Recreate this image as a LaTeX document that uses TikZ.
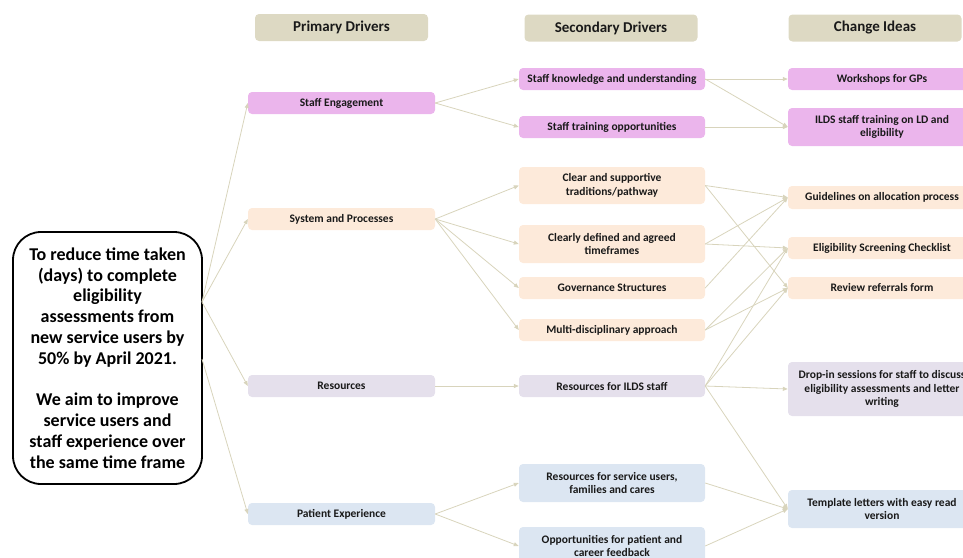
\documentclass[tikz,border=0pt]{standalone}
\usepackage{fontspec}
\setmainfont{Carlito}
\usetikzlibrary{arrows.meta}
\definecolor{hdr}{HTML}{DDD9C3}
\definecolor{pinkf}{HTML}{EBB5EC}
\definecolor{peach}{HTML}{FDEADA}
\definecolor{lav}{HTML}{E5E0EC}
\definecolor{bluef}{HTML}{DCE6F2}
\definecolor{connc}{HTML}{D8D4BC}
\begin{document}
\begin{tikzpicture}[x=1pt,y=-1pt,
  base/.style={rounded corners=4pt, inner sep=0pt, align=center, text=black!90,
    font=\bfseries\fontsize{11.5}{13.8}\selectfont},
  hdrbox/.style={base, fill=hdr, minimum width=173pt, minimum height=27pt,
    font=\bfseries\fontsize{15}{17}\selectfont},
  pbox/.style={base, minimum width=187pt, minimum height=22pt},
  sbox/.style={base, minimum width=186pt, minimum height=22pt},
  cbox/.style={base, minimum width=188pt, minimum height=22pt},
  conn/.style={draw=connc, line width=0.8pt, -{Triangle[length=5pt,width=4pt]}}]
\useasboundingbox (0,0) rectangle (963,557);
\clip (0,0) rectangle (963,557);
% headers
\node[hdrbox] (h1) at (341.5,27.5) {Primary Drivers};
\node[hdrbox] (h2) at (611,28) {Secondary Drivers};
\node[hdrbox] (h3) at (875,28) {Change Ideas};
% goal
\node[draw=black, line width=1.8pt, rounded corners=28pt, minimum width=189pt,
  minimum height=252pt, align=center, inner sep=0pt,
  font=\bfseries\fontsize{18}{20.8}\selectfont] (goal) at (107.5,358)
  {To reduce time taken\\(days) to complete\\eligibility\\assessments from\\new service users by\\50\% by April 2021.\\[20.8pt]We aim to improve\\service users and\\staff experience over\\the same time frame};
\coordinate (g1) at (202,302);
\coordinate (g2) at (202,359);
% primary
\node[pbox, fill=pinkf] (se) at (341.5,103) {Staff Engagement};
\node[pbox, fill=peach] (sp) at (341.5,219) {System and Processes};
\node[pbox, fill=lav] (r) at (341.5,386) {Resources};
\node[pbox, fill=bluef] (pe) at (341.5,514) {Patient Experience};
% secondary
\node[sbox, fill=pinkf] (sk) at (612,79) {Staff knowledge and understanding};
\node[sbox, fill=pinkf] (st) at (612,127) {Staff training opportunities};
\node[sbox, fill=peach, minimum height=37pt] (cs) at (612,185.5) {Clear and supportive\\traditions/pathway};
\node[sbox, fill=peach, minimum height=38pt] (cd) at (612,244) {Clearly defined and agreed\\timeframes};
\node[sbox, fill=peach] (gs) at (612,288) {Governance Structures};
\node[sbox, fill=peach] (md) at (612,330) {Multi-disciplinary approach};
\node[sbox, fill=lav] (ri) at (612,386) {Resources for ILDS staff};
\node[sbox, fill=bluef, minimum height=38pt] (rs) at (612,483) {Resources for service users,\\families and cares};
\node[sbox, fill=bluef, minimum height=38pt] (op) at (612,546) {Opportunities for patient and\\career feedback};
% change ideas
\node[cbox, fill=pinkf] (wg) at (882,79) {Workshops for GPs};
\node[cbox, fill=pinkf, minimum height=38pt] (it) at (882,127) {ILDS staff training on LD and\\eligibility};
\node[cbox, fill=peach, minimum height=23pt] (ga) at (882,197.5) {Guidelines on allocation process};
\node[cbox, fill=peach] (es) at (882,248) {Eligibility Screening Checklist};
\node[cbox, fill=peach] (rr) at (882,288) {Review referrals form};
\node[cbox, fill=lav, minimum height=54pt] (ds) at (882,389) {Drop-in sessions for staff to discuss\\eligibility assessments and letter\\writing};
\node[cbox, fill=bluef, minimum height=38pt] (tl) at (882,509) {Template letters with easy read\\version};
% connectors
\draw[conn] (g1) -- (se.west);
\draw[conn] (g1) -- (sp.west);
\draw[conn] (g1) -- (r.west);
\draw[conn] (g2) -- (pe.west);
\draw[conn] (se.east) -- (sk.west);
\draw[conn] (se.east) -- (st.west);
\draw[conn] (sp.east) -- (cs.west);
\draw[conn] (sp.east) -- (cd.west);
\draw[conn] (sp.east) -- (gs.west);
\draw[conn] (sp.east) -- (md.west);
\draw[conn] (r.east) -- (ri.west);
\draw[conn] (pe.east) -- (rs.west);
\draw[conn] (pe.east) -- (op.west);
\draw[conn] (sk.east) -- (wg.west);
\draw[conn] (sk.east) -- (it.west);
\draw[conn] (st.east) -- (it.west);
\draw[conn] (cs.east) -- (ga.west);
\draw[conn] (cs.east) -- (rr.west);
\draw[conn] (cd.east) -- (ga.west);
\draw[conn] (cd.east) -- (es.west);
\draw[conn] (gs.east) -- (ga.west);
\draw[conn] (md.east) -- (es.west);
\draw[conn] (md.east) -- (rr.west);
\draw[conn] (ri.east) -- (es.west);
\draw[conn] (ri.east) -- (rr.west);
\draw[conn] (ri.east) -- (ds.west);
\draw[conn] (ri.east) -- (tl.west);
\draw[conn] (rs.east) -- (tl.west);
\draw[conn] (op.east) -- (tl.west);
\end{tikzpicture}
\end{document}
